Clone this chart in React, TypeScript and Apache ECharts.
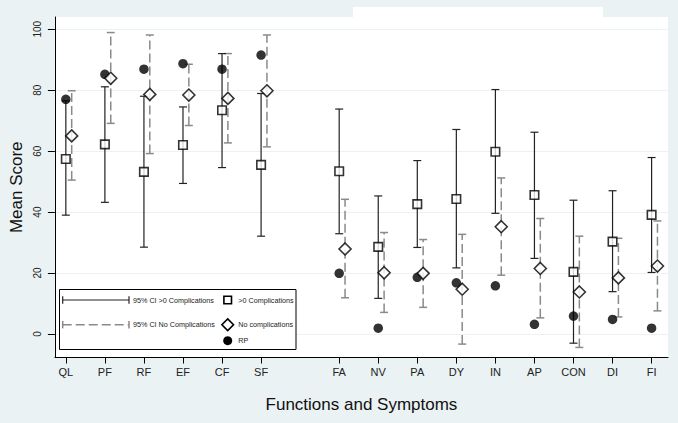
import React, { useEffect, useRef } from "react";
import * as echarts from "echarts";

const categories = ["QL", "PF", "RF", "EF", "CF", "SF", "FA", "NV", "PA", "DY", "IN", "AP", "CON", "DI", "FI"];
const positions = [1, 2, 3, 4, 5, 6, 8, 9, 10, 11, 12, 13, 14, 15, 16];
const compMean = [57.4, 62.2, 53.2, 62.0, 73.4, 55.5, 53.4, 28.6, 42.6, 44.3, 59.8, 45.6, 20.4, 30.3, 39.1];
const compLow = [39.0, 43.2, 28.5, 49.4, 54.6, 32.1, 32.9, 11.7, 28.4, 21.7, 39.6, 24.8, -3.0, 13.9, 20.2];
const compHigh = [76.5, 81.1, 78.0, 74.5, 92.0, 78.9, 73.8, 45.3, 56.9, 67.1, 80.2, 66.2, 43.9, 47.0, 57.9];
const noMean = [65.0, 83.9, 78.6, 78.4, 77.3, 79.8, 27.9, 20.1, 19.9, 14.7, 35.2, 21.5, 13.8, 18.4, 22.3];
const noLow = [50.5, 69.1, 59.2, 68.4, 62.7, 61.4, 11.9, 7.1, 8.75, -3.3, 19.3, 5.3, -4.4, 5.6, 7.6];
const noHigh = [79.8, 98.9, 98.1, 88.5, 92.0, 98.1, 44.2, 33.3, 31.0, 32.7, 51.2, 37.9, 32.1, 31.4, 37.1];
const rp = [77.0, 85.2, 86.9, 88.7, 86.9, 91.5, 19.9, 1.9, 18.6, 16.8, 15.8, 3.2, 5.9, 4.8, 1.9];
const yTicks = [0, 20, 40, 60, 80, 100];
const noOffset = 0.15;

const BG = "#eaf2f3";
const FONT = "'Liberation Sans', Arial, sans-serif";

function makeBarRenderer(color: string, dash: number[] | null, width: number) {
  return (params: any, api: any) => {
    const x = api.value(0);
    const lo = api.coord([x, api.value(1)]);
    const hi = api.coord([x, api.value(2)]);
    const half = 4;
    const style: any = { stroke: color, lineWidth: width };
    const vstyle: any = { stroke: color, lineWidth: width };
    if (dash) vstyle.lineDash = dash;
    return {
      type: "group",
      children: [
        { type: "line", shape: { x1: lo[0], y1: lo[1], x2: hi[0], y2: hi[1] }, style: vstyle },
        { type: "line", shape: { x1: hi[0] - half, y1: hi[1], x2: hi[0] + half, y2: hi[1] }, style },
        { type: "line", shape: { x1: lo[0] - half, y1: lo[1], x2: lo[0] + half, y2: lo[1] }, style },
      ],
    };
  };
}

export default function App() {
  const ref = useRef<HTMLDivElement>(null);
  useEffect(() => {
    if (!ref.current) return;
    const chart = echarts.init(ref.current, null, { renderer: "svg" });
    const labelMap: Record<number, string> = {};
    positions.forEach((p, i) => (labelMap[p] = categories[i]));

    const solidData = positions.map((p, i) => [p, compLow[i], compHigh[i]]);
    const dashData = positions.map((p, i) => [p + noOffset, noLow[i], noHigh[i]]);
    const compData = positions.map((p, i) => [p, compMean[i]]);
    const noData = positions.map((p, i) => [p + noOffset, noMean[i]]);
    const rpData = positions.map((p, i) => [p, rp[i]]);

    const lx = 62.7, rx = 129;
    const row1 = 300, row2 = 324.7, row3 = 340.7;
    const mx = 227.7;
    const txtStyle = (text: string, x: number, y: number) => ({
      type: "text",
      x,
      y,
      z: 101,
      style: { text, fill: "#222", font: `7.2px ${FONT}`, textVerticalAlign: "middle", verticalAlign: "middle" },
    });

    chart.setOption({
      animation: false,
      backgroundColor: BG,
      grid: { left: 53, right: 10, top: 17, bottom: 65.5, show: true, backgroundColor: "#fff", borderWidth: 0 },
      xAxis: {
        type: "value",
        min: 0.72,
        max: 16.42,
        name: "Functions and Symptoms",
        nameLocation: "middle",
        nameGap: 38.5,
        nameTextStyle: { fontSize: 17, fontFamily: FONT, color: "#111" },
        axisLine: { show: true, onZero: false, lineStyle: { color: "#000", width: 1 } },
        axisTick: { show: true, length: 6, customValues: positions, lineStyle: { color: "#000" } },
        axisLabel: {
          customValues: positions,
          formatter: (v: number) => labelMap[Math.round(v)] || "",
          fontSize: 11,
          fontFamily: FONT,
          color: "#222",
          margin: 9,
        },
        splitLine: { show: false },
      },
      yAxis: {
        type: "value",
        min: -7.7,
        max: 104,
        name: "Mean Score",
        nameLocation: "middle",
        nameGap: 28,
        nameTextStyle: { fontSize: 17, fontFamily: FONT, color: "#111" },
        axisLine: { show: true, lineStyle: { color: "#000", width: 1 } },
        axisTick: { show: true, length: 7, customValues: yTicks, lineStyle: { color: "#000" } },
        axisLabel: { customValues: yTicks, rotate: 90, fontSize: 10, fontFamily: FONT, color: "#222", margin: 12 },
        splitLine: { show: true, lineStyle: { color: BG, width: 1 } },
      },
      series: [
        {
          type: "custom",
          name: "95% CI No Complications",
          renderItem: makeBarRenderer("#8a8a8a", [9, 4], 1.5),
          data: dashData,
          encode: { x: 0, y: [1, 2] },
          clip: false,
          z: 2,
        },
        {
          type: "custom",
          name: "95% CI >0 Complications",
          renderItem: makeBarRenderer("#222", null, 1.2),
          data: solidData,
          encode: { x: 0, y: [1, 2] },
          clip: false,
          z: 3,
        },
        {
          type: "scatter",
          name: "RP",
          data: rpData,
          symbol: "circle",
          symbolSize: 9.5,
          itemStyle: { color: "#000" },
          z: 4,
        },
        {
          type: "scatter",
          name: ">0 Complications",
          data: compData,
          symbol: "rect",
          symbolSize: 8.5,
          itemStyle: { color: "#fff", borderColor: "#000", borderWidth: 1.6 },
          z: 5,
        },
        {
          type: "scatter",
          name: "No complications",
          data: noData,
          symbol: "diamond",
          symbolSize: 12,
          itemStyle: { color: "#fff", borderColor: "#000", borderWidth: 1.6 },
          z: 6,
        },
      ],
      graphic: [
        { type: "rect", shape: { x: 353, y: 7, width: 250, height: 11 }, style: { fill: "#fff" }, z: 0, silent: true },
        {
          type: "rect",
          shape: { x: 59.5, y: 289.5, width: 236.5, height: 60 },
          style: { fill: "#fff", stroke: "#000", lineWidth: 1 },
          z: 100,
        },
        { type: "line", z: 101, shape: { x1: lx, y1: row1, x2: rx, y2: row1 }, style: { stroke: "#222", lineWidth: 1.2 } },
        { type: "line", z: 101, shape: { x1: lx, y1: row1 - 3.7, x2: lx, y2: row1 + 3.7 }, style: { stroke: "#222", lineWidth: 1.2 } },
        { type: "line", z: 101, shape: { x1: rx, y1: row1 - 3.7, x2: rx, y2: row1 + 3.7 }, style: { stroke: "#222", lineWidth: 1.2 } },
        { type: "line", z: 101, shape: { x1: lx, y1: row2, x2: rx, y2: row2 }, style: { stroke: "#8a8a8a", lineWidth: 1.5, lineDash: [9, 4] } },
        { type: "line", z: 101, shape: { x1: lx, y1: row2 - 3.7, x2: lx, y2: row2 + 3.7 }, style: { stroke: "#8a8a8a", lineWidth: 1.5 } },
        { type: "line", z: 101, shape: { x1: rx, y1: row2 - 3.7, x2: rx, y2: row2 + 3.7 }, style: { stroke: "#8a8a8a", lineWidth: 1.5 } },
        txtStyle("95% CI >0 Complications", 133, row1),
        txtStyle("95% CI No Complications", 133, row2),
        { type: "rect", z: 101, shape: { x: mx - 3.8, y: row1 - 3.8, width: 7.6, height: 7.6 }, style: { fill: "#fff", stroke: "#000", lineWidth: 1.6 } },
        {
          type: "polygon",
          z: 101,
          shape: { points: [[mx, row2 - 5.8], [mx + 5.8, row2], [mx, row2 + 5.8], [mx - 5.8, row2]] },
          style: { fill: "#fff", stroke: "#000", lineWidth: 1.6 },
        },
        { type: "circle", z: 101, shape: { cx: mx, cy: row3, r: 4.5 }, style: { fill: "#000" } },
        txtStyle(">0 Complications", 238.3, row1),
        txtStyle("No complications", 238.3, row2),
        txtStyle("RP", 238.3, row3),
      ],
    });
    return () => chart.dispose();
  }, []);
  return <div ref={ref} style={{ position: "fixed", left: 0, top: 0, width: 678, height: 423 }} />;
}
